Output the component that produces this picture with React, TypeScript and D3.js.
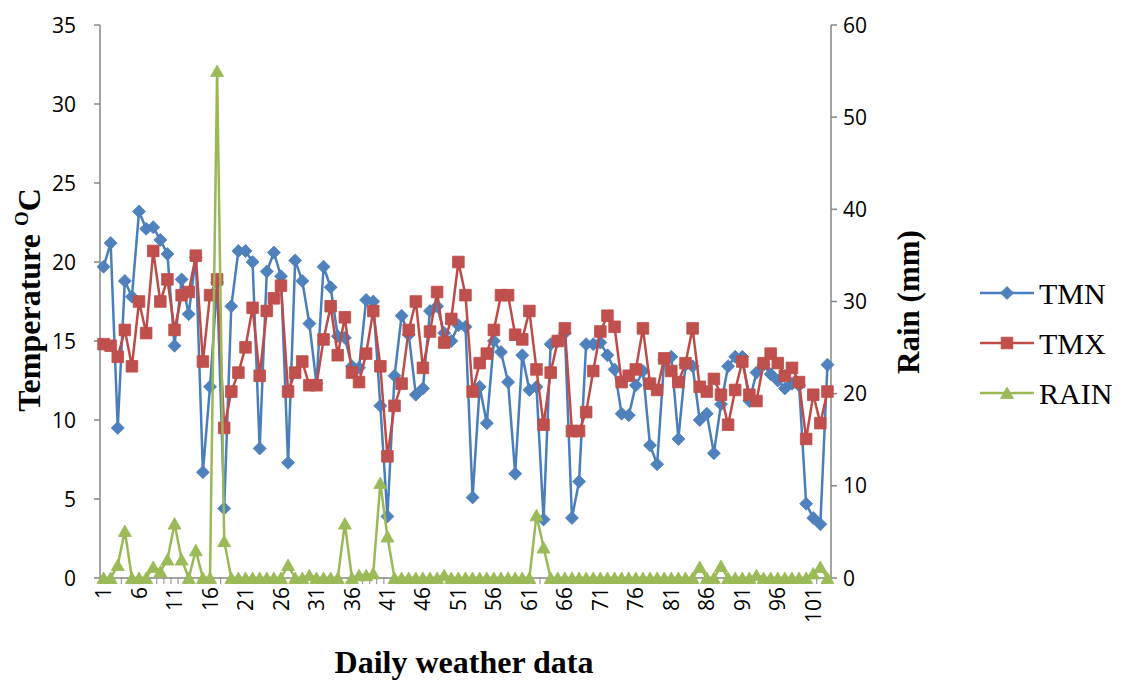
import React from 'react';
import * as d3 from 'd3';

const days: number[] = Array.from({ length: 103 }, (_, i) => i + 1);

const tmn: number[] = [
  19.7, 21.2, 9.5, 18.8, 17.8, 23.2, 22.1, 22.2, 21.4, 20.5,
  14.7, 18.9, 16.7, 20.3, 6.7, 12.1, 18.7, 4.4, 17.2, 20.7,
  20.7, 20.0, 8.2, 19.4, 20.6, 19.1, 7.3, 20.1, 18.8, 16.1,
  12.3, 19.7, 18.4, 15.3, 15.2, 13.4, 13.3, 17.6, 17.5, 10.9,
  3.9, 12.8, 16.6, 15.4, 11.6, 12.0, 16.9, 17.2, 15.5, 15.0,
  16.0, 15.9, 5.1, 12.1, 9.8, 15.0, 14.3, 12.4, 6.6, 14.1,
  11.9, 12.1, 3.7, 14.8, 15.0, 15.5, 3.8, 6.1, 14.8, 14.8,
  14.9, 14.1, 13.2, 10.4, 10.3, 12.2, 13.1, 8.4, 7.2, 13.8,
  14.0, 8.8, 13.5, 13.4, 10.0, 10.4, 7.9, 11.0, 13.4, 14.0,
  14.0, 11.2, 13.0, 13.5, 12.9, 12.5, 12.0, 12.3, 12.2, 4.7,
  3.8, 3.4, 13.5,
];

const tmx: number[] = [
  14.8, 14.7, 14.0, 15.7, 13.4, 17.5, 15.5, 20.7, 17.5, 18.9,
  15.7, 17.9, 18.1, 20.4, 13.7, 17.9, 18.9, 9.5, 11.8, 13.0,
  14.6, 17.1, 12.8, 16.9, 17.7, 18.5, 11.8, 13.0, 13.7, 12.2,
  12.2, 15.1, 17.2, 14.1, 16.5, 13.0, 12.4, 14.2, 16.9, 13.4,
  7.7, 10.9, 12.3, 15.7, 17.5, 13.3, 15.6, 18.1, 14.9, 16.4,
  20.0, 17.9, 11.8, 13.6, 14.2, 15.7, 17.9, 17.9, 15.4, 15.1,
  16.9, 13.2, 9.7, 13.0, 15.0, 15.8, 9.3, 9.3, 10.5, 13.1,
  15.6, 16.6, 15.9, 12.4, 12.8, 13.2, 15.8, 12.3, 11.9, 13.9,
  13.1, 12.4, 13.6, 15.8, 12.1, 11.8, 12.6, 11.6, 9.7, 11.9,
  13.7, 11.6, 11.2, 13.6, 14.2, 13.6, 12.8, 13.3, 12.4, 8.8,
  11.6, 9.8, 11.8,
];

const rain: number[] = [
  0, 0, 1.4, 5.1, 0, 0, 0, 1.2, 0.7, 2.0,
  5.9, 2.0, 0, 3.0, 0, 0, 55, 4.0, 0, 0,
  0, 0, 0, 0, 0, 0, 1.4, 0, 0, 0.3,
  0, 0, 0, 0, 5.9, 0, 0.3, 0.3, 0.5, 10.3,
  4.5, 0, 0, 0, 0, 0, 0, 0, 0.3, 0,
  0, 0, 0, 0, 0, 0, 0, 0, 0, 0,
  0, 6.8, 3.3, 0, 0, 0, 0, 0, 0, 0,
  0, 0, 0, 0, 0, 0, 0, 0, 0, 0,
  0, 0, 0, 0, 1.2, 0, 0, 1.3, 0, 0,
  0, 0, 0.3, 0, 0, 0, 0, 0, 0, 0,
  0.5, 1.2, 0,
];

const tempTicks: number[] = [0, 5, 10, 15, 20, 25, 30, 35];
const rainTicks: number[] = [0, 10, 20, 30, 40, 50, 60];
const dayLabels: number[] = [1, 6, 11, 16, 21, 26, 31, 36, 41, 46, 51, 56, 61, 66, 71, 76, 81, 86, 91, 96, 101];

const C_TMN_LINE = '#4A7EBB';
const C_TMN_MARK = '#4F81BD';
const C_TMX_LINE = '#BE4B48';
const C_TMX_MARK = '#C0504D';
const C_RAIN_LINE = '#98B954';
const C_RAIN_MARK = '#9BBB59';
const AXIS = '#868686';

const DIAMOND = 'M0,-6.5L6.5,0L0,6.5L-6.5,0Z';
const SQUARE = 'M-5.8,-5.8L5.8,-5.8L5.8,5.8L-5.8,5.8Z';
const TRIANGLE = 'M0,-6L6.5,5.5L-6.5,5.5Z';

const SERIF = "'Liberation Serif', 'Times New Roman', 'DejaVu Serif', serif";
const SANS = "'Open Sans', 'Liberation Sans', sans-serif";

export default function App() {
  const W = 1125;
  const H = 680;
  const left = 100;
  const right = 831;
  const top = 25;
  const bottom = 578;

  const x = d3.scaleBand<number>().domain(days).range([left, right]);
  const cx = (d: number) => (x(d) as number) + x.bandwidth() / 2;
  const yT = d3.scaleLinear().domain([0, 35]).range([bottom, top]);
  const yR = d3.scaleLinear().domain([0, 60]).range([bottom, top]);

  const lineT = d3.line<number>().x((_, i) => cx(days[i])).y((v) => yT(v));
  const lineR = d3.line<number>().x((_, i) => cx(days[i])).y((v) => yR(v));

  const legendItems = [
    { name: 'TMN', line: C_TMN_LINE, mark: C_TMN_MARK, path: DIAMOND, y: 293 },
    { name: 'TMX', line: C_TMX_LINE, mark: C_TMX_MARK, path: SQUARE, y: 343 },
    { name: 'RAIN', line: C_RAIN_LINE, mark: C_RAIN_MARK, path: TRIANGLE, y: 393 },
  ];

  return (
    <svg
      width={W}
      height={H}
      style={{ position: 'absolute', left: 0, top: 0, background: '#fff' }}
    >
      <rect x={0} y={0} width={W} height={H} fill="#fff" />

      {/* Left axis */}
      <line x1={left} x2={left} y1={top} y2={bottom} stroke={AXIS} strokeWidth={1.5} />
      {tempTicks.map((t) => (
        <g key={'lt' + t}>
          <line x1={left - 6} x2={left} y1={yT(t)} y2={yT(t)} stroke={AXIS} strokeWidth={1.5} />
          <text
            x={76}
            y={yT(t)}
            dy="0.36em"
            textAnchor="end"
            fontFamily={SANS}
            fontSize={21}
            fill="#000"
          >
            {t}
          </text>
        </g>
      ))}

      {/* Right axis */}
      <line x1={right} x2={right} y1={top} y2={bottom} stroke={AXIS} strokeWidth={1.5} />
      {rainTicks.map((t) => (
        <g key={'rt' + t}>
          <line x1={right} x2={right + 6} y1={yR(t)} y2={yR(t)} stroke={AXIS} strokeWidth={1.5} />
          <text
            x={843}
            y={yR(t)}
            dy="0.36em"
            textAnchor="start"
            fontFamily={SANS}
            fontSize={21}
            fill="#000"
          >
            {t}
          </text>
        </g>
      ))}

      {/* Bottom axis */}
      <line x1={left} x2={right} y1={bottom} y2={bottom} stroke={AXIS} strokeWidth={1.5} />
      {days.map((d) => (
        <line
          key={'bt' + d}
          x1={x(d) as number}
          x2={x(d) as number}
          y1={bottom}
          y2={bottom + 6}
          stroke={AXIS}
          strokeWidth={1}
        />
      ))}
      {dayLabels.map((d) => (
        <text
          key={'bl' + d}
          transform={`translate(${cx(d)},${bottom + 9}) rotate(-90)`}
          dy="0.36em"
          textAnchor="end"
          fontFamily={SANS}
          fontSize={21}
          fill="#000"
        >
          {d}
        </text>
      ))}

      {/* TMN */}
      <path d={lineT(tmn) || ''} fill="none" stroke={C_TMN_LINE} strokeWidth={2.5} strokeLinejoin="round" />
      {tmn.map((v, i) => (
        <path key={'n' + i} d={DIAMOND} transform={`translate(${cx(days[i])},${yT(v)})`} fill={C_TMN_MARK} stroke={C_TMN_LINE} strokeWidth={0.8} />
      ))}

      {/* TMX */}
      <path d={lineT(tmx) || ''} fill="none" stroke={C_TMX_LINE} strokeWidth={2.5} strokeLinejoin="round" />
      {tmx.map((v, i) => (
        <path key={'x' + i} d={SQUARE} transform={`translate(${cx(days[i])},${yT(v)})`} fill={C_TMX_MARK} stroke={C_TMX_LINE} strokeWidth={0.8} />
      ))}

      {/* RAIN */}
      <path d={lineR(rain) || ''} fill="none" stroke={C_RAIN_LINE} strokeWidth={2.5} strokeLinejoin="round" />
      {rain.map((v, i) => (
        <path key={'r' + i} d={TRIANGLE} transform={`translate(${cx(days[i])},${yR(v)})`} fill={C_RAIN_MARK} stroke={C_RAIN_LINE} strokeWidth={0.8} />
      ))}

      {/* Axis titles */}
      <text
        transform="translate(40,300) rotate(-90)"
        textAnchor="middle"
        style={{ fontFamily: SERIF, fontWeight: 'bold', fontSize: '32px' }}
        fill="#000"
      >
        Temperature{' '}
        <tspan style={{ fontSize: '19px' }} dy={-12}>O</tspan>
        <tspan style={{ fontSize: '32px' }} dy={12}>C</tspan>
      </text>
      <text
        transform="translate(919,302) rotate(-90)"
        textAnchor="middle"
        style={{ fontFamily: SERIF, fontWeight: 'bold', fontSize: '31px' }}
        fill="#000"
      >
        Rain (mm)
      </text>
      <text
        x={464}
        y={673}
        textAnchor="middle"
        style={{ fontFamily: SERIF, fontWeight: 'bold', fontSize: '32px' }}
        fill="#000"
      >
        Daily weather data
      </text>

      {/* Legend */}
      {legendItems.map((it) => (
        <g key={it.name}>
          <line x1={980} x2={1034} y1={it.y} y2={it.y} stroke={it.line} strokeWidth={2.5} />
          <path d={it.path} transform={`translate(1007,${it.y})`} fill={it.mark} stroke={it.line} strokeWidth={0.8} />
          <text
            x={1039}
            y={it.y}
            dy="0.35em"
            fontFamily="Liberation Serif"
            fontSize={30}
            fill="#000"
          >
            {it.name}
          </text>
        </g>
      ))}
    </svg>
  );
}
